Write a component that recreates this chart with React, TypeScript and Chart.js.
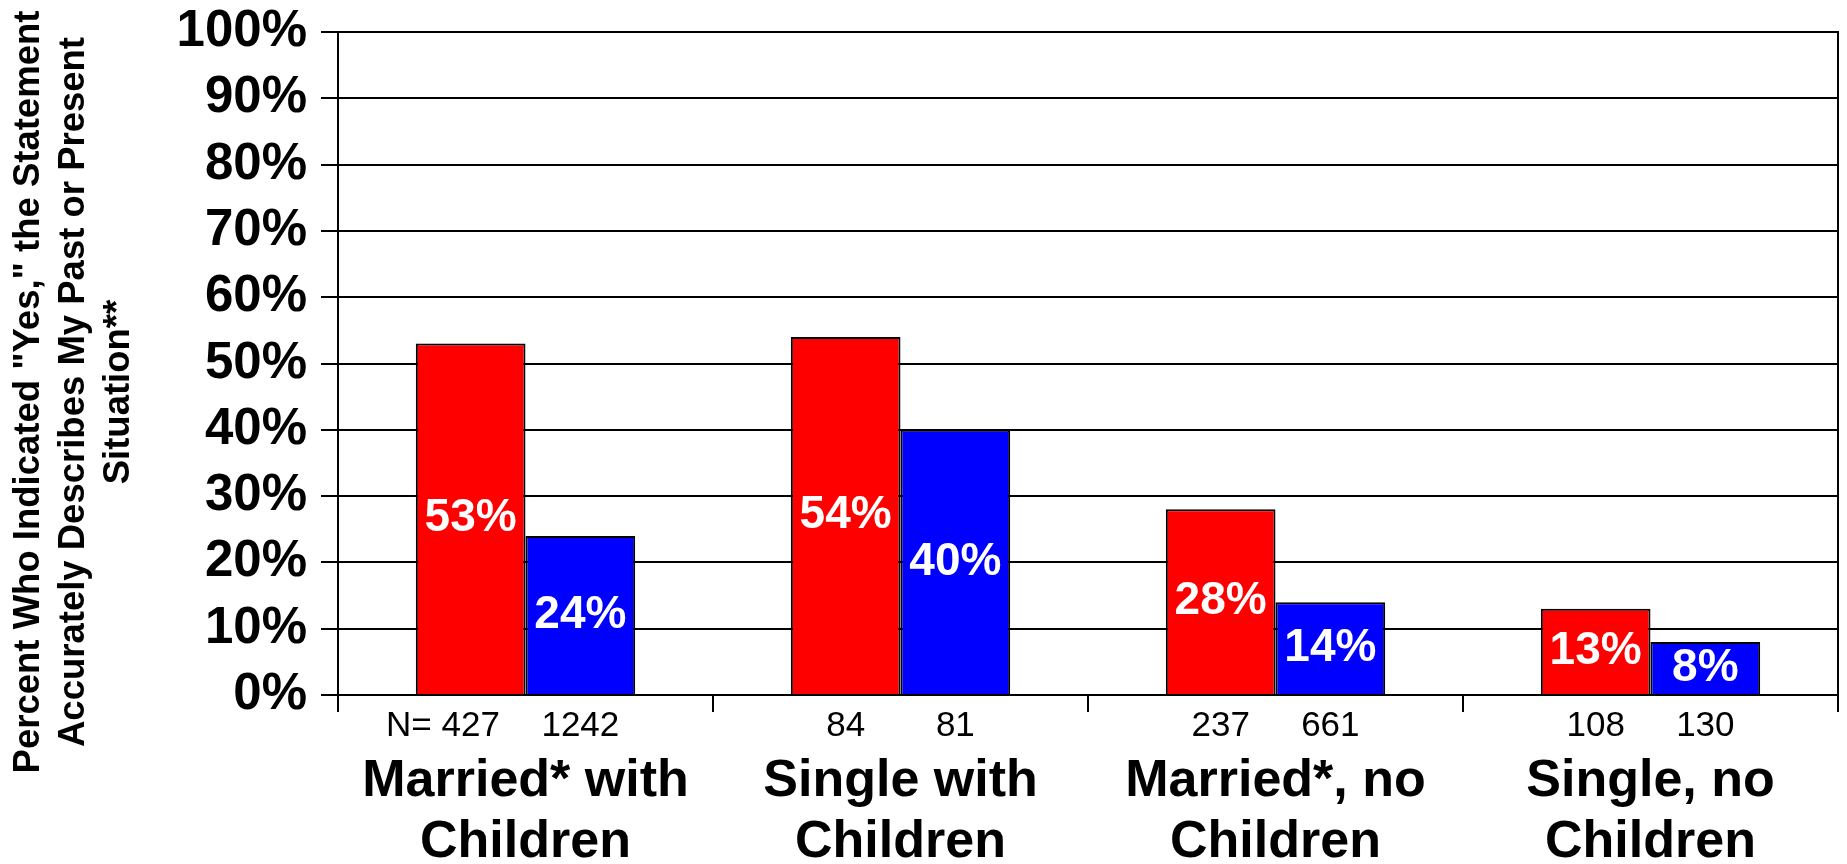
import React, { useEffect, useRef } from "react";
import { Chart, registerables } from "chart.js";

Chart.register(...registerables);

const FONT = "'Liberation Sans', Arial, Helvetica, sans-serif";

const categories: string[][] = [
  ["Married* with", "Children"],
  ["Single with", "Children"],
  ["Married*, no", "Children"],
  ["Single, no", "Children"],
];
const redValues = [53, 54, 28, 13];
const blueValues = [24, 40, 14, 8];
const redN = ["N= 427", "84", "237", "108"];
const blueN = ["1242", "81", "661", "130"];
const yTickLabels = ["0%", "10%", "20%", "30%", "40%", "50%", "60%", "70%", "80%", "90%", "100%"];
const yTitleLines = [
  'Percent Who Indicated "Yes," the Statement',
  "Accurately Describes My Past or Present",
  "Situation**",
];

const annotatePlugin = {
  id: "annotate",
  afterDatasetsDraw(chart: any) {
    const ctx = chart.ctx as CanvasRenderingContext2D;
    ctx.save();
    // value labels inside the bars
    ctx.font = `bold 46px ${FONT}`;
    ctx.fillStyle = "#ffffff";
    ctx.textAlign = "center";
    ctx.textBaseline = "middle";
    chart.data.datasets.forEach((ds: any, di: number) => {
      const meta = chart.getDatasetMeta(di);
      meta.data.forEach((bar: any, i: number) => {
        const { x, y, base } = bar.getProps(["x", "y", "base"], true);
        ctx.fillText(ds.data[i] + "%", x, (y + base) / 2);
      });
    });
    // N labels under the bars
    ctx.font = `35px ${FONT}`;
    ctx.fillStyle = "#000000";
    ctx.textBaseline = "alphabetic";
    ctx.textAlign = "right";
    [redN, blueN].forEach((arr, di) => {
      const meta = chart.getDatasetMeta(di);
      meta.data.forEach((bar: any, i: number) => {
        const text = arr[i];
        const num = text.split(" ").pop() as string;
        const w = ctx.measureText(num).width;
        ctx.fillText(text, bar.x + w / 2, chart.chartArea.bottom + 41);
      });
    });
    ctx.restore();
  },
  afterDraw(chart: any) {
    const ctx = chart.ctx as CanvasRenderingContext2D;
    const area = chart.chartArea;
    ctx.save();
    // right frame line
    ctx.strokeStyle = "#000";
    ctx.lineWidth = 2;
    ctx.beginPath();
    ctx.moveTo(area.right, area.top - 1);
    ctx.lineTo(area.right, area.bottom + 17);
    ctx.stroke();
    // rotated y axis title
    ctx.font = `bold 36.5px ${FONT}`;
    ctx.fillStyle = "#000";
    ctx.textAlign = "center";
    ctx.textBaseline = "middle";
    ctx.translate(0, 392);
    ctx.rotate(-Math.PI / 2);
    yTitleLines.forEach((line, i) => {
      ctx.fillText(line, 0, 29 + i * 45);
    });
    ctx.restore();
  },
};

export default function App() {
  const canvasRef = useRef<HTMLCanvasElement | null>(null);

  useEffect(() => {
    if (!canvasRef.current) return;
    const chart = new Chart(canvasRef.current, {
      type: "bar",
      data: {
        labels: categories,
        datasets: [
          {
            label: "Red",
            data: redValues,
            backgroundColor: "#ff0000",
            borderColor: "#000000",
            borderWidth: 2,
            categoryPercentage: 0.585,
            barPercentage: 1,
          },
          {
            label: "Blue",
            data: blueValues,
            backgroundColor: "#0000ff",
            borderColor: "#000000",
            borderWidth: 2,
            categoryPercentage: 0.585,
            barPercentage: 1,
          },
        ],
      },
      options: {
        responsive: true,
        maintainAspectRatio: false,
        animation: false,
        layout: { padding: { top: 32, right: 9, left: 0, bottom: 0 } },
        plugins: {
          legend: { display: false },
          tooltip: { enabled: false },
          title: { display: false },
        },
        scales: {
          x: {
            ticks: {
              font: { family: FONT, size: 52, weight: "bold", lineHeight: 1.18 },
              color: "#000",
              padding: 39,
              maxRotation: 0,
              autoSkip: false,
            },
            grid: {
              display: true,
              drawOnChartArea: false,
              color: "#000",
              lineWidth: 2,
              tickLength: 17,
              offset: true,
            },
            border: { display: true, color: "#000", width: 2 },
            afterFit: (s: any) => {
              s.height = 169;
              s.paddingLeft = 0;
              s.paddingRight = 0;
            },
          },
          y: {
            min: 0,
            max: 100,
            ticks: {
              stepSize: 10,
              callback: (_v: any, i: number) => yTickLabels[i],
              font: { family: FONT, size: 51, weight: "bold" },
              color: "#000",
              padding: 14,
            },
            grid: {
              color: "#000",
              lineWidth: 2,
              tickLength: 17,
              drawTicks: true,
            },
            border: { display: true, color: "#000", width: 2 },
            afterFit: (s: any) => {
              s.width = 338;
              s.paddingTop = 0;
              s.paddingBottom = 0;
            },
          },
        },
      } as any,
      plugins: [annotatePlugin],
    });
    return () => chart.destroy();
  }, []);

  return (
    <>
      <style>{"html,body{margin:0;padding:0;overflow:hidden;}"}</style>
      <div style={{ position: "relative", width: "1847px", height: "864px" }}>
        <canvas ref={canvasRef} />
      </div>
    </>
  );
}
